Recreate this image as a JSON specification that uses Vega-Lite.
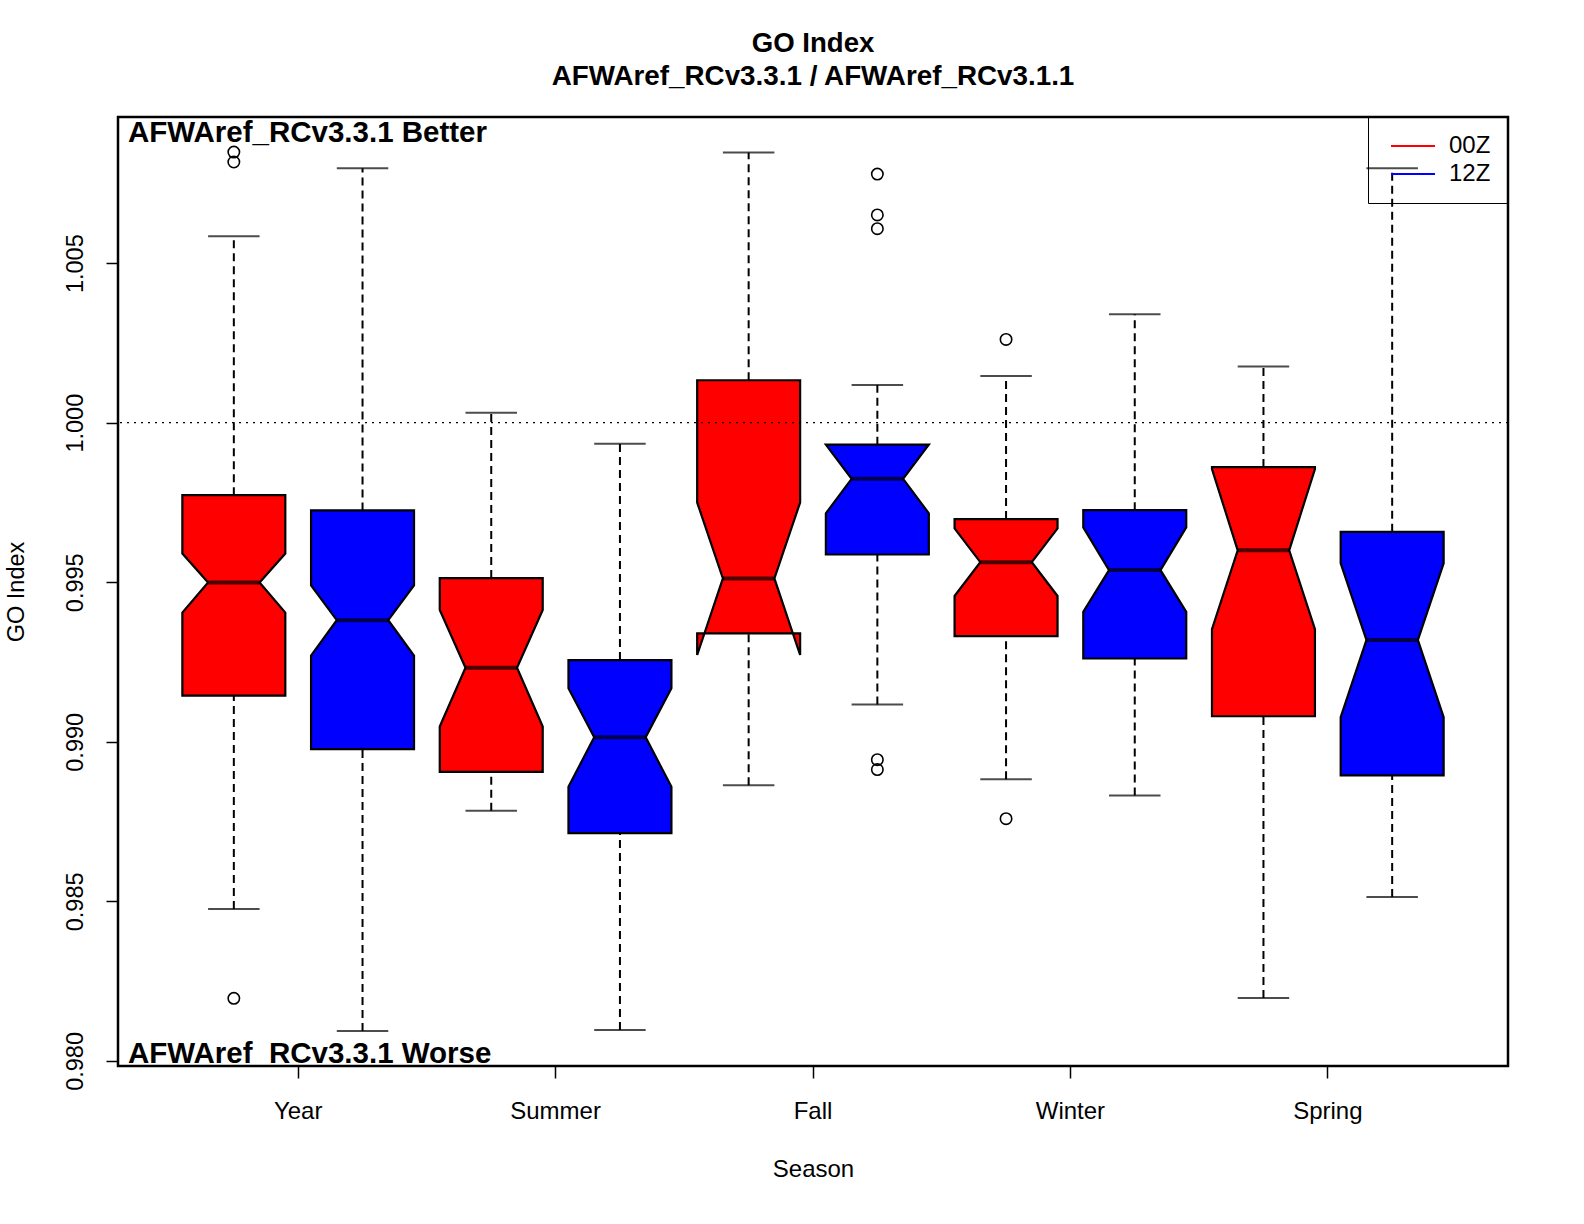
{
  "$schema": "https://vega.github.io/schema/vega-lite/v6.json",
  "width": 1390,
  "height": 949,
  "autosize": {"type": "none"},
  "padding": {"left": 118, "top": 117, "right": 76, "bottom": 158},
  "background": "white",
  "config": {
    "font": "Liberation Sans",
    "numberFormat": ".3f",
    "view": {"stroke": "black", "strokeWidth": 2.5},
    "axis": {"grid": false, "domain": false, "tickColor": "black", "tickWidth": 1.5, "tickSize": 12, "labelColor": "black", "titleColor": "black", "labelFontSize": 23.5, "titleFontSize": 23.5, "titleFontWeight": "normal", "labelFont": "Liberation Sans", "titleFont": "Liberation Sans"},
    "axisX": {"labelAngle": 0, "labelPadding": 21, "labelFontSize": 24, "titleFontSize": 24, "titlePadding": 34},
    "axisY": {"labelAngle": 270, "labelAlign": "center", "labelBaseline": "bottom", "labelPadding": 19, "titlePadding": 35, "tickCount": 6}
  },
  "title": {"text": "GO Index", "subtitle": "AFWAref_RCv3.3.1 / AFWAref_RCv3.1.1", "anchor": "middle", "frame": "group", "fontSize": 27.6, "subtitleFontSize": 27.8, "fontWeight": "bold", "subtitleFontWeight": "bold", "color": "black", "subtitleColor": "black", "offset": 26, "subtitlePadding": 5.5, "font": "Liberation Sans", "subtitleFont": "Liberation Sans"},
  "datasets": {
    "boxes": [
      {"season": "Year", "run": "00Z", "lower": 0.98476, "q1": 0.99145, "notch_lo": 0.99405, "median": 0.99499, "notch_hi": 0.99590, "q3": 0.99773, "upper": 1.00584},
      {"season": "Year", "run": "12Z", "lower": 0.98094, "q1": 0.98977, "notch_lo": 0.99270, "median": 0.99381, "notch_hi": 0.99490, "q3": 0.99725, "upper": 1.00797},
      {"season": "Summer", "run": "00Z", "lower": 0.98784, "q1": 0.98906, "notch_lo": 0.99048, "median": 0.99232, "notch_hi": 0.99413, "q3": 0.99513, "upper": 1.00031},
      {"season": "Summer", "run": "12Z", "lower": 0.98097, "q1": 0.98714, "notch_lo": 0.98859, "median": 0.99014, "notch_hi": 0.99168, "q3": 0.99256, "upper": 0.99934},
      {"season": "Fall", "run": "00Z", "lower": 0.98864, "q1": 0.99340, "notch_lo": 0.99272, "median": 0.99512, "notch_hi": 0.99750, "q3": 1.00133, "upper": 1.00847},
      {"season": "Fall", "run": "12Z", "lower": 0.99117, "q1": 0.99587, "notch_lo": 0.99716, "median": 0.99824, "notch_hi": 0.99931, "q3": 0.99931, "upper": 1.00118},
      {"season": "Winter", "run": "00Z", "lower": 0.98883, "q1": 0.99331, "notch_lo": 0.99457, "median": 0.99563, "notch_hi": 0.99669, "q3": 0.99698, "upper": 1.00146},
      {"season": "Winter", "run": "12Z", "lower": 0.98832, "q1": 0.99261, "notch_lo": 0.99407, "median": 0.99538, "notch_hi": 0.99672, "q3": 0.99726, "upper": 1.00340},
      {"season": "Spring", "run": "00Z", "lower": 0.98197, "q1": 0.99080, "notch_lo": 0.99353, "median": 0.99600, "notch_hi": 0.99855, "q3": 0.99861, "upper": 1.00176},
      {"season": "Spring", "run": "12Z", "lower": 0.98514, "q1": 0.98895, "notch_lo": 0.99077, "median": 0.99319, "notch_hi": 0.99559, "q3": 0.99658, "upper": 1.00797}
    ],
    "outliers": [
      {"season": "Year", "run": "00Z", "value": 1.00848},
      {"season": "Year", "run": "00Z", "value": 1.00817},
      {"season": "Year", "run": "00Z", "value": 0.98196},
      {"season": "Fall", "run": "12Z", "value": 1.00779},
      {"season": "Fall", "run": "12Z", "value": 1.00651},
      {"season": "Fall", "run": "12Z", "value": 1.00608},
      {"season": "Fall", "run": "12Z", "value": 0.98944},
      {"season": "Fall", "run": "12Z", "value": 0.98913},
      {"season": "Winter", "run": "00Z", "value": 1.00261},
      {"season": "Winter", "run": "00Z", "value": 0.98759}
    ]
  },
  "resolve": {"scale": {"xOffset": "independent"}},
  "layer": [
    {
      "data": {"name": "boxes"},
      "transform": [
        {"fold": ["q1", "notch_lo", "median", "notch_hi", "q3", "q3", "notch_hi", "median", "notch_lo", "q1"], "as": ["stat", "value"]},
        {"window": [{"op": "row_number", "as": "vertex"}], "groupby": ["season"]}
      ],
      "mark": {"type": "line", "interpolate": "linear-closed", "stroke": "black", "strokeWidth": 2.2, "strokeJoin": "miter"},
      "encoding": {
        "x": {"field": "season", "type": "nominal", "title": "Season", "scale": {"type": "band", "domain": ["Year", "Summer", "Fall", "Winter", "Spring"], "paddingInner": 0, "paddingOuter": 0.2}},
        "xOffset": {"field": "vertex", "type": "quantitative", "scale": {"type": "linear", "nice": false, "zero": false, "domain": [1, 2, 3, 4, 5, 6, 7, 8, 9, 10, 11, 12, 13, 14, 15, 16, 17, 18, 19, 20], "range": [12.871, 12.871, 38.611, 12.871, 12.871, 115.833, 115.833, 90.093, 115.833, 115.833, 141.575, 141.575, 167.315, 141.575, 141.575, 244.537, 244.537, 218.797, 244.537, 244.537]}},
        "y": {"field": "value", "type": "quantitative", "title": "GO Index", "scale": {"domain": [0.97984, 1.00958], "nice": false, "zero": false}},
        "fill": {"field": "run", "type": "nominal", "scale": {"domain": ["00Z", "12Z"], "range": ["#ff0000", "#0000ff"]},
          "legend": {"title": null, "orient": "top-right", "offset": 0, "padding": 17, "strokeColor": "black", "symbolType": "M-0.545,-0.08H3.455V0.08H-0.545Z", "symbolSize": 484, "symbolStrokeWidth": 0, "labelOffset": 40, "rowPadding": 4, "labelFontSize": 24, "labelColor": "black", "labelFont": "Liberation Sans",
            "encode": {"symbols": {"strokeWidth": {"value": 0}, "stroke": {"value": "transparent"}}, "legend": {"strokeWidth": {"value": 2}}}}},
        "detail": [{"field": "season", "type": "nominal"}, {"field": "run", "type": "nominal"}],
        "order": {"field": "vertex", "type": "quantitative"}
      }
    },
    {
      "data": {"name": "boxes"},
      "mark": {"type": "rule", "color": "black", "strokeWidth": 2, "strokeDash": [8, 5]},
      "encoding": {
        "x": {"field": "season", "type": "nominal", "title": "Season", "scale": {"type": "band", "domain": ["Year", "Summer", "Fall", "Winter", "Spring"], "paddingInner": 0, "paddingOuter": 0.2}},
        "xOffset": {"field": "run", "type": "nominal", "scale": {"type": "band", "domain": ["00Z", "12Z"], "paddingInner": 0, "paddingOuter": 0}},
        "y": {"field": "q3", "type": "quantitative", "title": "GO Index", "scale": {"domain": [0.97984, 1.00958], "nice": false, "zero": false}},
        "y2": {"field": "upper"}
      }
    },
    {
      "data": {"name": "boxes"},
      "mark": {"type": "rule", "color": "black", "strokeWidth": 2, "strokeDash": [8, 5]},
      "encoding": {
        "x": {"field": "season", "type": "nominal", "title": "Season", "scale": {"type": "band", "domain": ["Year", "Summer", "Fall", "Winter", "Spring"], "paddingInner": 0, "paddingOuter": 0.2}},
        "xOffset": {"field": "run", "type": "nominal", "scale": {"type": "band", "domain": ["00Z", "12Z"], "paddingInner": 0, "paddingOuter": 0}},
        "y": {"field": "lower", "type": "quantitative", "title": "GO Index", "scale": {"domain": [0.97984, 1.00958], "nice": false, "zero": false}},
        "y2": {"field": "q1"}
      }
    },
    {
      "data": {"name": "boxes"},
      "transform": [{"fold": ["lower", "upper"], "as": ["end", "cap"]}],
      "mark": {"type": "tick", "orient": "horizontal", "color": "black", "size": 51.5, "thickness": 2},
      "encoding": {
        "x": {"field": "season", "type": "nominal", "title": "Season", "scale": {"type": "band", "domain": ["Year", "Summer", "Fall", "Winter", "Spring"], "paddingInner": 0, "paddingOuter": 0.2}},
        "xOffset": {"field": "run", "type": "nominal", "scale": {"type": "band", "domain": ["00Z", "12Z"], "paddingInner": 0, "paddingOuter": 0}},
        "y": {"field": "cap", "type": "quantitative", "title": "GO Index", "scale": {"domain": [0.97984, 1.00958], "nice": false, "zero": false}}
      }
    },
    {
      "data": {"name": "boxes"},
      "mark": {"type": "tick", "orient": "horizontal", "color": "black", "size": 51.5, "thickness": 4},
      "encoding": {
        "x": {"field": "season", "type": "nominal", "title": "Season", "scale": {"type": "band", "domain": ["Year", "Summer", "Fall", "Winter", "Spring"], "paddingInner": 0, "paddingOuter": 0.2}},
        "xOffset": {"field": "run", "type": "nominal", "scale": {"type": "band", "domain": ["00Z", "12Z"], "paddingInner": 0, "paddingOuter": 0}},
        "y": {"field": "median", "type": "quantitative", "title": "GO Index", "scale": {"domain": [0.97984, 1.00958], "nice": false, "zero": false}}
      }
    },
    {
      "data": {"name": "outliers"},
      "mark": {"type": "point", "shape": "circle", "filled": false, "color": "black", "size": 130, "strokeWidth": 1.6, "opacity": 1},
      "encoding": {
        "x": {"field": "season", "type": "nominal", "title": "Season", "scale": {"type": "band", "domain": ["Year", "Summer", "Fall", "Winter", "Spring"], "paddingInner": 0, "paddingOuter": 0.2}},
        "xOffset": {"field": "run", "type": "nominal", "scale": {"type": "band", "domain": ["00Z", "12Z"], "paddingInner": 0, "paddingOuter": 0}},
        "y": {"field": "value", "type": "quantitative", "title": "GO Index", "scale": {"domain": [0.97984, 1.00958], "nice": false, "zero": false}}
      }
    },
    {
      "data": {"values": [{"ref": 1.0}]},
      "mark": {"type": "rule", "color": "black", "strokeWidth": 1.3, "strokeDash": [2, 5]},
      "encoding": {
        "y": {"field": "ref", "type": "quantitative", "title": "GO Index", "scale": {"domain": [0.97984, 1.00958], "nice": false, "zero": false}}
      }
    },
    {
      "data": {"values": [{"note": "AFWAref_RCv3.3.1 Better"}]},
      "mark": {"type": "text", "align": "left", "baseline": "top", "fontSize": 29.5, "fontWeight": "bold", "color": "black", "dx": -41.5, "dy": 2},
      "encoding": {
        "x": {"datum": "Year", "type": "nominal", "bandPosition": 0, "title": "Season", "scale": {"type": "band", "domain": ["Year", "Summer", "Fall", "Winter", "Spring"], "paddingInner": 0, "paddingOuter": 0.2}},
        "y": {"datum": 1.00958, "type": "quantitative", "title": "GO Index", "scale": {"domain": [0.97984, 1.00958], "nice": false, "zero": false}},
        "text": {"field": "note"}
      }
    },
    {
      "data": {"values": [{"note": "AFWAref_RCv3.3.1 Worse"}]},
      "mark": {"type": "text", "align": "left", "baseline": "alphabetic", "fontSize": 29.5, "fontWeight": "bold", "color": "black", "dx": -41.5, "dy": -3},
      "encoding": {
        "x": {"datum": "Year", "type": "nominal", "bandPosition": 0, "title": "Season", "scale": {"type": "band", "domain": ["Year", "Summer", "Fall", "Winter", "Spring"], "paddingInner": 0, "paddingOuter": 0.2}},
        "y": {"datum": 0.97984, "type": "quantitative", "title": "GO Index", "scale": {"domain": [0.97984, 1.00958], "nice": false, "zero": false}},
        "text": {"field": "note"}
      }
    }
  ]
}
